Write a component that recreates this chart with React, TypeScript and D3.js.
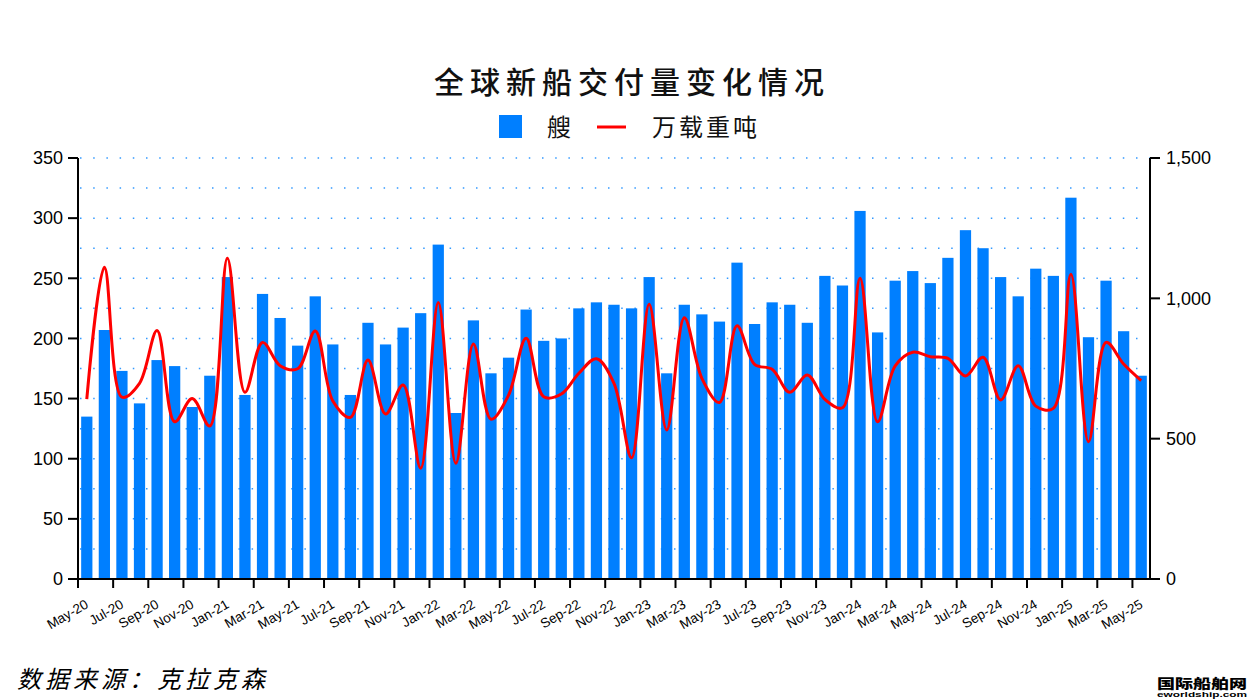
import React from "react";
import * as d3 from "d3";

const months = [
  "May-20","Jun-20","Jul-20","Aug-20","Sep-20","Oct-20","Nov-20","Dec-20",
  "Jan-21","Feb-21","Mar-21","Apr-21","May-21","Jun-21","Jul-21","Aug-21","Sep-21","Oct-21","Nov-21","Dec-21",
  "Jan-22","Feb-22","Mar-22","Apr-22","May-22","Jun-22","Jul-22","Aug-22","Sep-22","Oct-22","Nov-22","Dec-22",
  "Jan-23","Feb-23","Mar-23","Apr-23","May-23","Jun-23","Jul-23","Aug-23","Sep-23","Oct-23","Nov-23","Dec-23",
  "Jan-24","Feb-24","Mar-24","Apr-24","May-24","Jun-24","Jul-24","Aug-24","Sep-24","Oct-24","Nov-24","Dec-24",
  "Jan-25","Feb-25","Mar-25","Apr-25","May-25",
];

const ships = [
  135, 207, 173, 146, 182, 177, 143, 169,
  251, 153, 237, 217, 194, 235, 195, 153, 213, 195, 209, 221,
  278, 138, 215, 171, 184, 224, 198, 200, 225, 230, 228, 225,
  251, 171, 228, 220, 214, 263, 212, 230, 228, 213, 252, 244,
  306, 205, 248, 256, 246, 267, 290, 275, 251, 235, 258, 252,
  317, 201, 248, 206, 169,
];

const dwt = [
  641, 1111, 648, 697, 885, 560, 643, 545,
  1143, 665, 843, 760, 749, 884, 634, 576, 780, 588, 691, 395,
  985, 412, 837, 569, 655, 858, 649, 659, 733, 785, 697, 432,
  979, 531, 931, 715, 629, 902, 765, 747, 665, 727, 640, 610,
  1072, 560, 759, 808, 792, 786, 723, 790, 638, 760, 616, 608,
  1086, 489, 843, 766, 707,
];

const leftTicks = [0, 50, 100, 150, 200, 250, 300, 350];
const gridTicks = [25, 50, 75, 100, 125, 150, 175, 200, 225, 250, 275, 300, 325, 350];
const rightTicks = [0, 500, 1000, 1500];

const title = "全球新船交付量变化情况";
const legendBar = "艘";
const legendLine = "万载重吨";
const source = "数据来源：克拉克森";

export default function App() {
  const W = 1250, H = 700;
  const x0 = 78, x1 = 1150, yTop = 158, yBot = 579;

  const x = d3.scaleBand<string>().domain(months).range([x0, x1]).paddingInner(0.36).paddingOuter(0.18);
  const xb = d3.scaleBand<string>().domain(months).range([x0, x1]);
  const yL = d3.scaleLinear().domain([0, 350]).range([yBot, yTop]);
  const yR = d3.scaleLinear().domain([0, 1500]).range([yBot, yTop]);

  const line = d3
    .line<number>()
    .x((_, i) => (xb(months[i]) as number) + xb.bandwidth() / 2)
    .y((d) => yR(d))
    .curve(d3.curveCatmullRom.alpha(0.5));

  const numFont = "'Liberation Sans', Arial, sans-serif";
  const cjk = "'Noto Sans CJK SC', sans-serif";
  const fmt = d3.format(",");

  return (
    <svg
      width={W}
      height={H}
      style={{ position: "absolute", left: 0, top: 0, display: "block", background: "#fff" }}
    >
      <rect x={0} y={0} width={W} height={H} fill="#fff" />
      {/* title */}
      <text x={632} y={93} textAnchor="middle" fontFamily={cjk} fontSize={30} fontWeight={500} letterSpacing={6} fill="#111">
        {title}
      </text>
      {/* legend */}
      <rect x={499} y={115} width={23} height={23} fill="#007FFF" />
      <text x={547} y={136} fontFamily={cjk} fontSize={24} fill="#111">{legendBar}</text>
      <line x1={597} x2={626} y1={127} y2={127} stroke="#FF0000" strokeWidth={3} />
      <text x={652} y={136} fontFamily={cjk} fontSize={24} letterSpacing={3} fill="#111">{legendLine}</text>

      {/* grid */}
      {gridTicks.map((t) => (
        <line key={"g" + t} x1={x0 + 2} x2={x1} y1={yL(t)} y2={yL(t)} stroke="#3399FF" strokeWidth={1.5} strokeDasharray="1.5,11.7" />
      ))}

      {/* bars */}
      {ships.map((v, i) => (
        <rect key={"b" + i} x={x(months[i])} y={yL(v)} width={x.bandwidth()} height={yBot - yL(v)} fill="#007FFF" />
      ))}

      {/* line */}
      <path d={line(dwt) || ""} fill="none" stroke="#FF0000" strokeWidth={3} strokeLinejoin="round" />

      {/* left axis */}
      <line x1={x0} x2={x0} y1={yTop} y2={yBot} stroke="#000" strokeWidth={2} />
      {leftTicks.map((t) => (
        <g key={"l" + t}>
          <line x1={x0 - 10} x2={x0} y1={yL(t)} y2={yL(t)} stroke="#000" strokeWidth={2} />
          <text x={x0 - 15} y={yL(t)} dy="0.35em" textAnchor="end" fontFamily={numFont} fontSize={18} fill="#000">
            {t}
          </text>
        </g>
      ))}

      {/* right axis */}
      <line x1={x1} x2={x1} y1={yTop} y2={yBot} stroke="#000" strokeWidth={2} />
      {rightTicks.map((t) => (
        <g key={"r" + t}>
          <line x1={x1} x2={x1 + 10} y1={yR(t)} y2={yR(t)} stroke="#000" strokeWidth={2} />
          <text x={x1 + 16} y={yR(t)} dy="0.35em" textAnchor="start" fontFamily={numFont} fontSize={18} fill="#000">
            {fmt(t)}
          </text>
        </g>
      ))}

      {/* bottom axis */}
      <line x1={x0 - 1} x2={x1 + 1} y1={yBot} y2={yBot} stroke="#000" strokeWidth={2} />
      {months.map((m, i) =>
        i % 2 === 0 ? (
          <g key={"x" + m}>
            <line x1={xb(m) as number} x2={xb(m) as number} y1={yBot} y2={yBot + 9} stroke="#000" strokeWidth={2} />
            <text
              transform={`translate(${(xb(m) as number) + 9},${yBot + 24}) rotate(-30)`}
              textAnchor="end"
              dy="0.35em"
              fontFamily={numFont}
              fontSize={13.5}
              fill="#000"
            >
              {m}
            </text>
          </g>
        ) : null
      )}

      {/* source */}
      <text x={17} y={688} fontFamily={cjk} fontSize={24} fontStyle="italic" letterSpacing={4} fill="#000">
        {source}
      </text>

      {/* watermark */}
      <text x={1157} y={688} fontFamily={cjk} fontSize={13} fontWeight={900} textLength={90} lengthAdjust="spacingAndGlyphs" fill="#000">
        国际船舶网
      </text>
      <text x={1157} y={697} fontFamily={numFont} fontSize={8} fontWeight={700} textLength={90} lengthAdjust="spacingAndGlyphs" fill="#000">
        eworldship.com
      </text>
    </svg>
  );
}
